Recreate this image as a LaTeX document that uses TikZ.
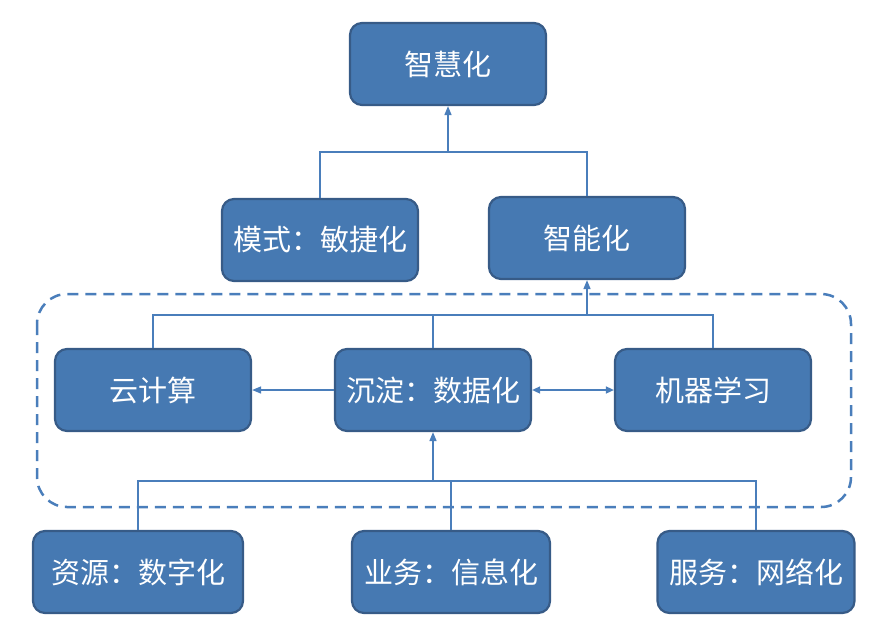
\documentclass[tikz,border=0pt]{standalone}
\usepackage{fontspec}
\newfontfamily\cjk{Noto Sans CJK SC}
\usetikzlibrary{arrows.meta}
\definecolor{boxfill}{HTML}{4679B2}
\definecolor{boxdraw}{HTML}{375B87}
\definecolor{linec}{HTML}{4A7EBB}
\tikzset{
  box/.style={draw=boxdraw, line width=2.2pt, fill=boxfill, rounded corners=12pt,
    minimum width=196pt, minimum height=82pt, inner sep=0pt,
    text=white, font=\cjk\fontsize{29}{33}\selectfont},
  conn/.style={draw=linec, line width=1.5pt},
  arr/.style={conn, -{Triangle[length=9pt,width=7pt]}},
  darr/.style={conn, {Triangle[length=8pt,width=7pt]}-{Triangle[length=8pt,width=7pt]}},
}
\begin{document}
\begin{tikzpicture}[x=1pt,y=-1pt]
\useasboundingbox (0,0) rectangle (896,638);
\draw[linec, line width=2.5pt, dash pattern=on 11pt off 7pt, rounded corners=30pt] (37,294) rectangle (851,507);
\node[box] (zhh) at (448,64) {智慧化};
\node[box] (msh) at (320,240) {模式：敏捷化};
\node[box] (znh) at (587,238) {智能化};
\node[box] (yjs) at (153,390) {云计算};
\node[box] (sjh) at (433,390) {沉淀：数据化};
\node[box] (jqx) at (713,390) {机器学习};
\node[box, minimum width=210pt] (zy) at (138,572) {资源：数字化};
\node[box, minimum width=198pt] (yw) at (451,572) {业务：信息化};
\node[box, minimum width=197pt] (fw) at (756,572) {服务：网络化};
\coordinate (t1) at (448,152);
\coordinate (t2) at (587,315);
\coordinate (t3) at (433,481);
% top
\draw[conn] (msh.north) |- (t1) -| (znh.north);
\draw[arr] (t1) -- (zhh.south);
% middle
\draw[conn] (yjs.north) |- (t2) -| (jqx.north);
\draw[conn] (sjh.north) -- (sjh.north |- t2);
\draw[arr] (t2) -- (znh.south);
\draw[arr] (sjh.west) -- (yjs.east);
\draw[darr] (sjh.east) -- (jqx.west);
% bottom
\draw[conn] (zy.north) |- (t3) -| (fw.north);
\draw[conn] (yw.north) -- (yw.north |- t3);
\draw[arr] (t3) -- (sjh.south);
\end{tikzpicture}
\end{document}
